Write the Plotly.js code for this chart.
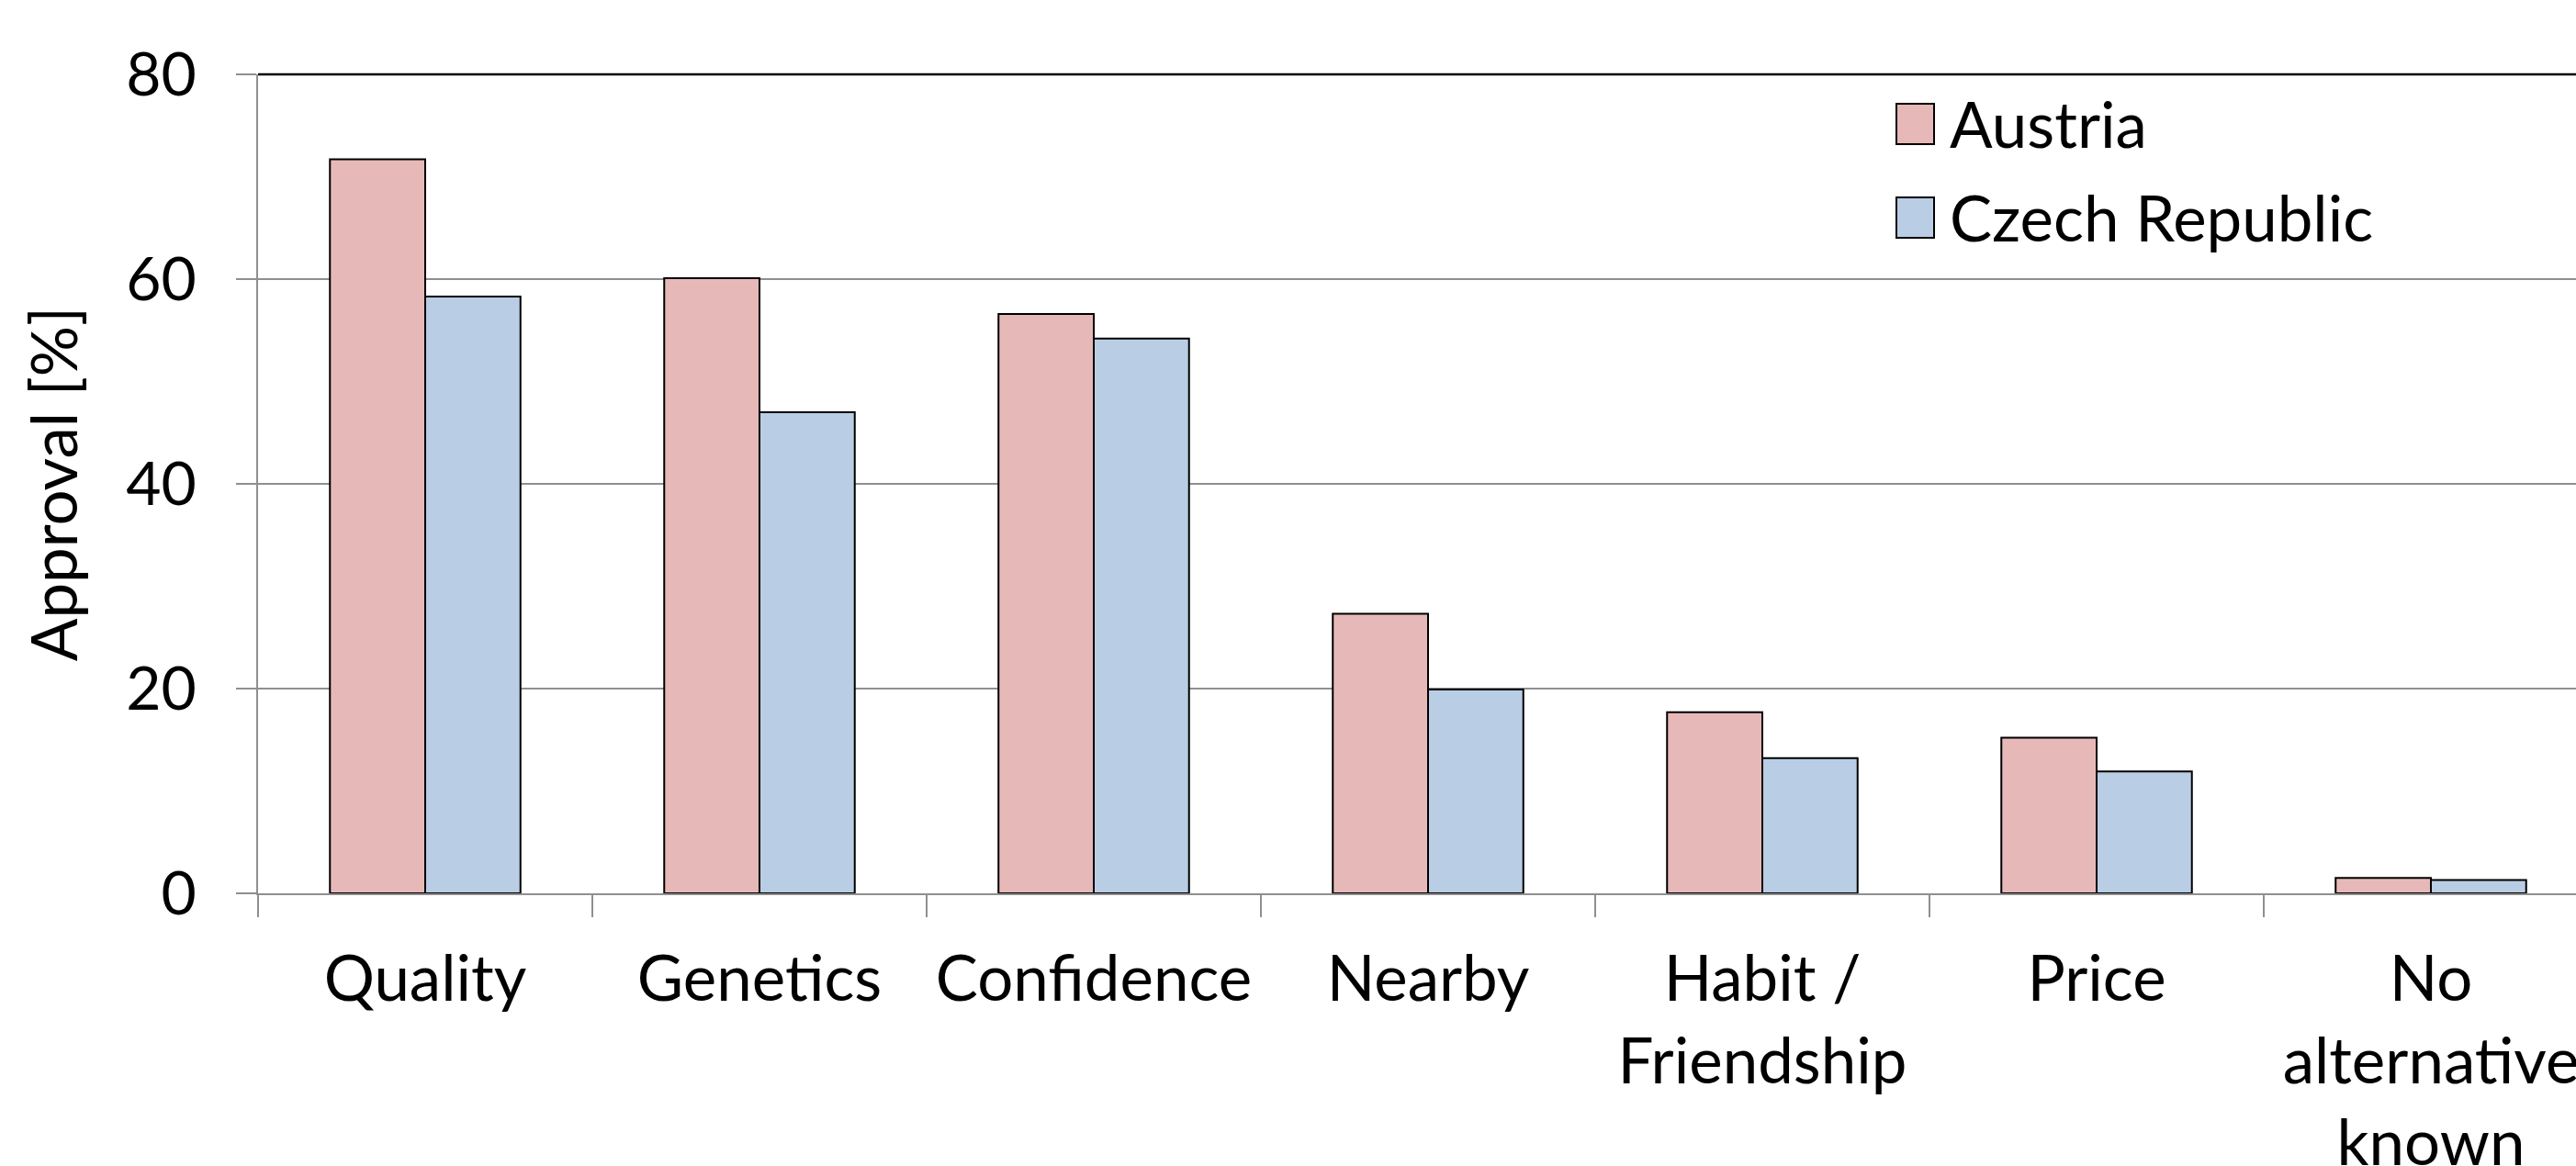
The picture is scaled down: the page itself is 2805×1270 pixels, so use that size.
<!DOCTYPE html>
<html>
<head>
<meta charset="utf-8">
<script src="https://cdn.plot.ly/plotly-3.0.1.min.js"></script>
<style>
  html, body { margin: 0; padding: 0; overflow: hidden; background: #ffffff; }
  #chart { width: 2829px; height: 1270px; }
</style>
</head>
<body>
<div id="chart"></div>
<script>
// Reasons for choosing a supplier: approval share by country
const categories = ['Quality', 'Genetics', 'Confidence', 'Nearby', 'Habit /<br>Friendship', 'Price', 'No<br>alternative<br>known'];
const austria = [71.7, 60.1, 56.6, 27.3, 17.7, 15.2, 1.5];
const czechRepublic = [58.3, 47.0, 54.2, 19.9, 13.2, 11.9, 1.3];
const seriesNames = ['Austria', 'Czech Republic'];
const yTicks = [0, 20, 40, 60, 80];

const FONT = 'Lato, "Open Sans", sans-serif';
const GRAY = '#8f8f8f';
const COLORS = ['#E6B9B8', '#B9CDE5'];

// plot area in pixels (left, top, width, height)
const PL = 281, PT = 81, PW = 2548, PH = 892;
const px = x => (x - PL) / PW;
const py = y => (PT + PH - y) / PH;

const traces = [austria, czechRepublic].map((vals, i) => ({
  type: 'bar',
  name: seriesNames[i],
  x: categories,
  y: vals,
  marker: { color: COLORS[i], line: { color: '#000000', width: 2 } },
  showlegend: false,
  hoverinfo: 'x+y+name'
}));

// legend drawn as swatches plus labels
const legendRows = [{ top: 113, bottom: 157, mid: 134 }, { top: 215, bottom: 259, mid: 236 }];
const legendShapes = legendRows.map((r, i) => ({
  type: 'rect', xref: 'paper', yref: 'paper',
  x0: px(2065), x1: px(2106), y0: py(r.bottom), y1: py(r.top),
  fillcolor: COLORS[i], line: { color: '#000000', width: 2 }
}));
const legendLabels = legendRows.map((r, i) => ({
  xref: 'paper', yref: 'paper', x: px(2121), y: py(r.mid),
  xanchor: 'left', yanchor: 'middle', showarrow: false,
  text: seriesNames[i], font: { family: FONT, size: 69, color: '#000000' }
}));

const layout = {
  width: 2829, height: 1270,
  margin: { l: PL, r: 2829 - PL - PW, t: PT, b: 1270 - PT - PH },
  paper_bgcolor: '#ffffff', plot_bgcolor: '#ffffff',
  barmode: 'group', bargap: 0.43, bargroupgap: 0,
  font: { family: FONT, size: 66, color: '#000000' },
  xaxis: {
    type: 'category', tickson: 'boundaries',
    ticks: 'outside', ticklen: 24, tickwidth: 2, tickcolor: GRAY,
    showline: true, linecolor: GRAY, linewidth: 2,
    showgrid: false, zeroline: false,
    tickfont: { family: FONT, size: 69, color: '#000000' },
    ticklabelstandoff: 32
  },
  yaxis: {
    range: [0, 80], tickvals: yTicks, ticktext: yTicks.map(String),
    ticks: 'outside', ticklen: 22, tickwidth: 2, tickcolor: GRAY,
    showline: true, linecolor: GRAY, linewidth: 2,
    showgrid: true, gridcolor: GRAY, gridwidth: 2, zeroline: false,
    tickfont: { family: FONT, size: 66, color: '#000000' },
    ticklabelstandoff: 30,
    title: { text: 'Approval [%]', font: { family: FONT, size: 69, color: '#000000' }, standoff: 30 }
  },
  shapes: [
    { type: 'line', xref: 'paper', yref: 'paper', x0: 0, x1: 1, y0: 1, y1: 1,
      line: { color: '#000000', width: 2.5 } }
  ].concat(legendShapes),
  annotations: legendLabels
};

Plotly.newPlot('chart', traces, layout, { staticPlot: true, displayModeBar: false });
</script>
</body>
</html>
